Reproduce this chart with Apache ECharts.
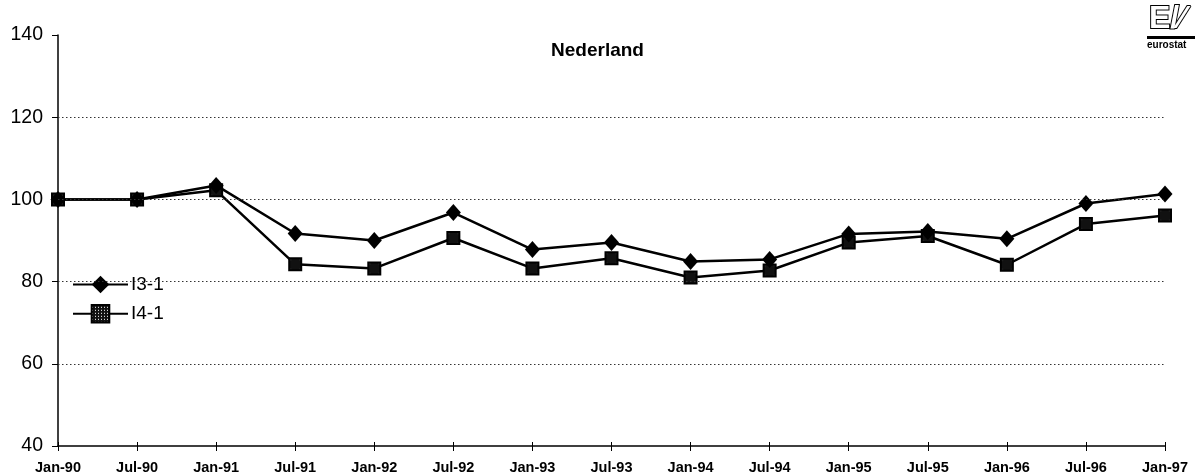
<!DOCTYPE html>
<html><head><meta charset="utf-8">
<script src="https://cdn.jsdelivr.net/npm/echarts@6/dist/echarts.min.js"></script>
<style>html,body{margin:0;padding:0;background:#fff}#c{width:1195px;height:475px}</style>
</head><body><div id="c"></div>
<script>
const categories = ['Jan-90','Jul-90','Jan-91','Jul-91','Jan-92','Jul-92','Jan-93','Jul-93','Jan-94','Jul-94','Jan-95','Jul-95','Jan-96','Jul-96','Jan-97'];
const i31 = [100, 100, 103.4, 91.7, 90.0, 96.8, 87.8, 89.5, 84.9, 85.4, 91.6, 92.2, 90.4, 99.0, 101.3];
const i41 = [100, 100, 102.2, 84.2, 83.2, 90.6, 83.2, 85.7, 81.0, 82.7, 89.5, 91.1, 84.1, 94.0, 96.1];
const yTicks = [40, 60, 80, 100, 120, 140];
const gridValues = [60, 80, 100, 120];

const cv = document.createElement('canvas');
cv.width = 3; cv.height = 3;
const cx = cv.getContext('2d');
cx.fillStyle = '#111'; cx.fillRect(0,0,3,3);
cx.fillStyle = '#fff'; cx.fillRect(1,1,1,1);
const pattern = {image: cv, repeat: 'repeat'};

const FONT = 'Liberation Sans, Arial, sans-serif';
const chart = echarts.init(document.getElementById('c'), null, {renderer:'canvas'});
chart.setOption({
  animation: false,
  backgroundColor: '#fff',
  title: {text: 'Nederland', left: 'center', top: 36,
    textStyle: {fontFamily: FONT, fontSize: 19, fontWeight: 'bold', color: '#000'}},
  legend: {
    orient: 'vertical', left: 67, top: 270, itemGap: 10,
    itemWidth: 55, itemHeight: 22,
    textStyle: {fontFamily: FONT, fontSize: 19, color: '#000', padding: [0,0,0,-2]},
    data: ['I3-1', 'I4-1']
  },
  grid: {left: 58, right: 30, top: 35, bottom: 29},
  xAxis: [{
    type: 'category', data: categories, boundaryGap: false,
    axisLine: {lineStyle: {color: '#000', width: 1.5}},
    axisTick: {show: true, length: 5, lineStyle: {color: '#000'}},
    axisLabel: {fontFamily: FONT, fontSize: 14.5, fontWeight: 'bold', color: '#000', margin: 14, interval: 0},
    splitLine: {show: false}
  },{
    type: 'category', data: categories, boundaryGap: false, position: 'bottom',
    axisLine: {show: false},
    axisTick: {show: true, inside: true, length: 4, lineStyle: {color: '#000'}},
    axisLabel: {show: false}, splitLine: {show: false}
  }],
  yAxis: {
    type: 'value', min: 40, max: 140, interval: 20,
    axisLine: {show: true, lineStyle: {color: '#000', width: 1.5}},
    axisTick: {show: true, length: 6, lineStyle: {color: '#000'}},
    axisLabel: {fontFamily: FONT, fontSize: 19.5, color: '#000', margin: 15,
      formatter: v => yTicks.includes(v) ? String(v) : ''},
    splitLine: {show: false},
    splitArea: {show: false}
  },
  series: [{
    name: 'I3-1', type: 'line', data: i31, xAxisIndex: 0,
    symbol: 'diamond', symbolSize: [15, 17],
    lineStyle: {color: '#000', width: 2.5},
    itemStyle: {color: '#000'},
    markLine: {
      silent: true, symbol: 'none', label: {show: false}, animation: false,
      lineStyle: {color: '#333', type: [1.5, 2.5], width: 1},
      data: gridValues.map(v => ({yAxis: v}))
    },
    z: 3
  },{
    name: 'I4-1', type: 'line', data: i41, xAxisIndex: 0,
    symbol: 'rect', symbolSize: 12,
    lineStyle: {color: '#000', width: 2.5},
    itemStyle: {color: pattern, borderColor: '#000', borderWidth: 2},
    z: 2
  }],
  graphic: [
    {type: 'text', left: 1148, top: 2, style: {text: 'E/⁄', fontSize: 32, fontWeight: 900, fontFamily: FONT, fill: '#fff', stroke: '#000', lineWidth: 2}},
    {type: 'rect', shape: {x: 1147, y: 36, width: 48, height: 3}, style: {fill: '#000'}},
    {type: 'text', left: 1147, top: 40, style: {text: 'eurostat', fontSize: 10, fontWeight: 'bold', fontFamily: FONT, fill: '#000'}}
  ]
});
</script></body></html>
